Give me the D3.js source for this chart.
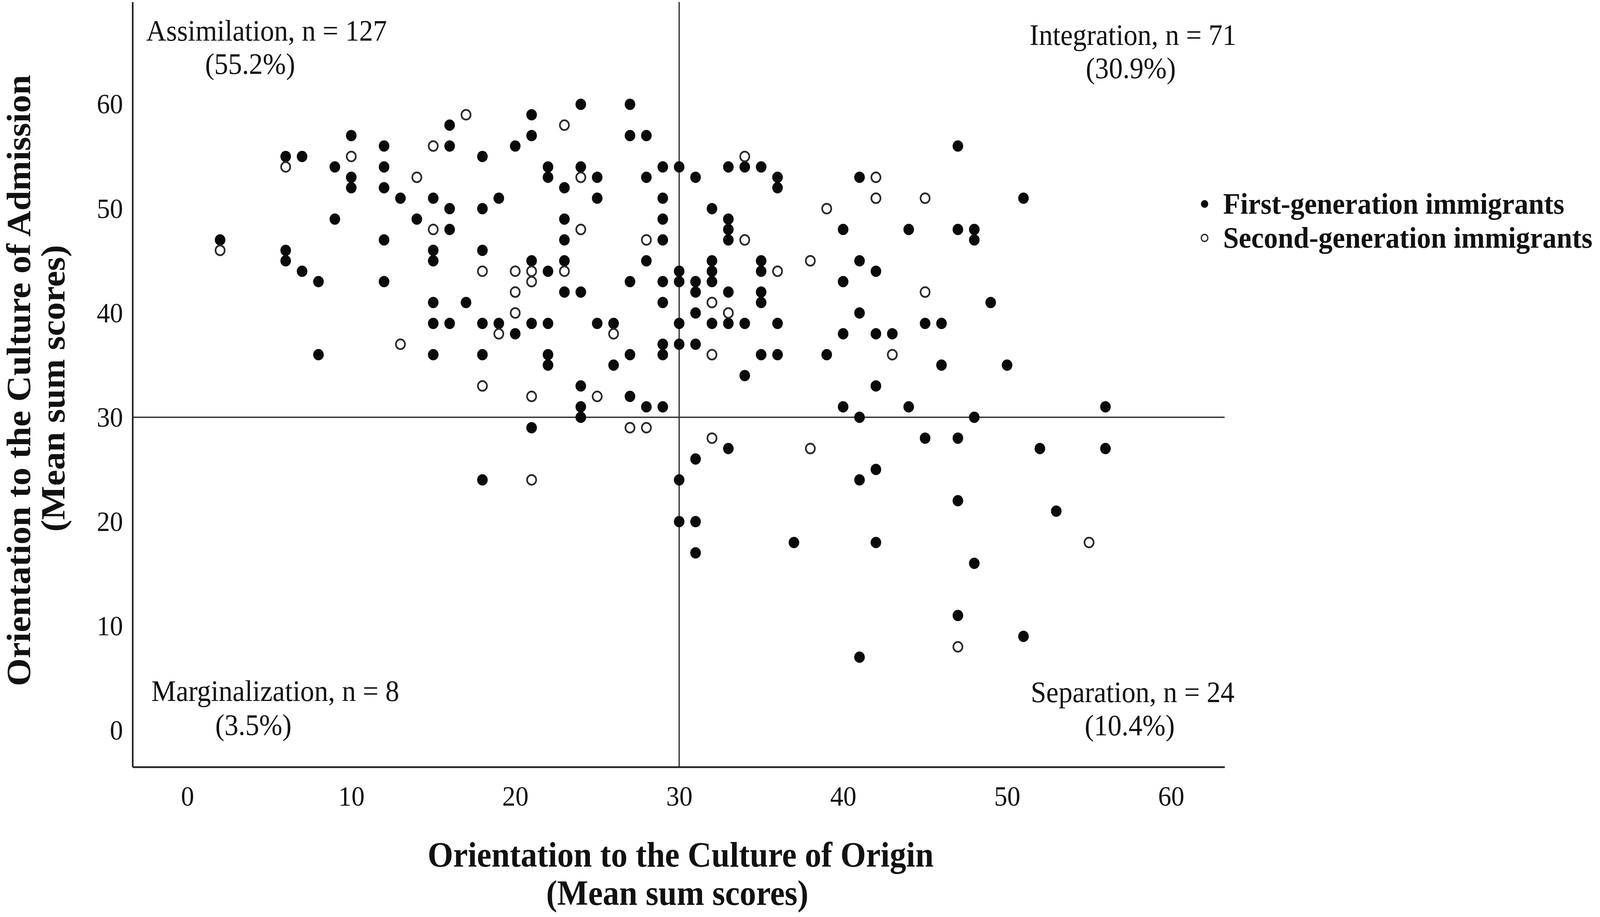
<!DOCTYPE html>
<html>
<head>
<meta charset="utf-8">
<script src="https://cdn.jsdelivr.net/npm/d3@7/dist/d3.min.js"></script>
<style>
  html, body { margin: 0; padding: 0; background: #fff; overflow: hidden; }
  #chart svg { display: block; width: 100vw; height: 100vh; }
</style>
</head>
<body>
<div id="chart"></div>
<script>
// Data (integer mean sum scores)
const firstGen = [
  [2,47],
  [6,55],[6,46],[6,45],
  [7,55],[7,44],
  [8,43],[8,36],
  [9,54],[9,49],
  [10,57],[10,53],[10,52],
  [12,56],[12,54],[12,52],[12,47],[12,43],
  [13,51],
  [14,49],
  [15,51],[15,46],[15,45],[15,41],[15,39],[15,36],
  [16,58],[16,56],[16,50],[16,48],[16,39],
  [17,41],
  [18,55],[18,50],[18,46],[18,39],[18,36],[18,24],
  [19,51],[19,39],
  [20,56],[20,38],
  [21,59],[21,57],[21,45],[21,39],[21,29],
  [22,54],[22,53],[22,44],[22,39],[22,36],[22,35],
  [23,52],[23,49],[23,47],[23,45],[23,42],
  [24,60],[24,54],[24,42],[24,33],[24,31],[24,30],
  [25,53],[25,51],[25,39],
  [26,39],[26,35],
  [27,60],[27,57],[27,43],[27,36],[27,32],
  [28,57],[28,53],[28,45],[28,31],
  [29,54],[29,51],[29,49],[29,47],[29,43],[29,41],[29,37],[29,36],[29,31],
  [30,54],[30,44],[30,43],[30,39],[30,37],[30,24],[30,20],
  [31,53],[31,43],[31,42],[31,40],[31,37],[31,26],[31,20],[31,17],
  [32,50],[32,45],[32,44],[32,43],[32,39],
  [33,54],[33,49],[33,48],[33,47],[33,42],[33,39],[33,27],
  [34,54],[34,39],[34,34],
  [35,54],[35,45],[35,44],[35,42],[35,41],[35,36],
  [36,53],[36,52],[36,39],[36,36],
  [37,18],
  [39,36],
  [40,48],[40,43],[40,38],[40,31],
  [41,53],[41,45],[41,40],[41,30],[41,24],[41,7],
  [42,44],[42,38],[42,33],[42,25],[42,18],
  [43,38],
  [44,48],[44,31],
  [45,39],[45,28],
  [46,39],[46,35],
  [47,56],[47,48],[47,28],[47,22],[47,11],
  [48,48],[48,47],[48,30],[48,16],
  [49,41],[50,35],[51,51],[51,9],[52,27],[53,21],[56,31],[56,27]
];

const secondGen = [
  [2,46],[6,54],[10,55],[13,37],[14,53],[15,56],[15,48],[17,59],
  [18,44],[18,33],[19,38],[20,44],[20,42],[20,40],[21,44],[21,43],
  [21,32],[21,24],[23,58],[23,44],[24,53],[24,48],[25,32],[26,38],
  [27,29],[28,47],[28,29],[32,41],[32,36],[32,28],[33,40],[34,55],
  [34,47],[36,44],[38,45],[38,27],[39,50],[42,53],[42,51],[43,36],
  [45,51],[45,42],[47,8],[55,18]
];

const xTicks = [0, 10, 20, 30, 40, 50, 60];
const yTicks = [0, 10, 20, 30, 40, 50, 60];
const cutX = 30;
const cutY = 30;

const quadNames = ["Assimilation, n = 127", "Integration, n = 71", "Marginalization, n = 8", "Separation, n = 24"];
const quadShares = ["(55.2%)", "(30.9%)", "(3.5%)", "(10.4%)"];
const seriesNames = ["First-generation immigrants", "Second-generation immigrants"];

const xTitle = ["Orientation to the Culture of Origin", "(Mean sum scores)"];
const yTitle = ["Orientation to the Culture of Admission", "(Mean sum scores)"];

// Page and plot frame
const W = 4382, H = 2347;
const frame = {left: 363, right: 3354, top: 5, bottom: 1963};
const serif = '"Liberation Serif", "Times New Roman", serif';

const x = d3.scaleLinear().domain([-3.34, 63.27]).range([frame.left, frame.right]);
const y = d3.scaleLinear().domain([-3.52, 69.81]).range([frame.bottom, frame.top]);

const svg = d3.select("#chart")
    .append("svg")
    .attr("viewBox", `0 0 ${W} ${H}`)
    .attr("preserveAspectRatio", "none");

svg.append("rect")
    .attr("width", W)
    .attr("height", H)
    .attr("fill", "white");

// Reference lines at the cut-off scores
svg.append("line")
    .attr("x1", x(cutX)).attr("x2", x(cutX))
    .attr("y1", frame.top).attr("y2", frame.bottom)
    .attr("stroke", "#333").attr("stroke-width", 3.5);

svg.append("line")
    .attr("x1", frame.left).attr("x2", frame.right)
    .attr("y1", y(cutY)).attr("y2", y(cutY))
    .attr("stroke", "#333").attr("stroke-width", 3.5);

// Axes
const xAxis = d3.axisBottom(x).tickValues(xTicks).tickSize(0).tickSizeOuter(0);
const yAxis = d3.axisLeft(y).tickValues(yTicks).tickSize(0).tickSizeOuter(0).tickPadding(26);

svg.append("g")
    .attr("transform", `translate(0,${frame.bottom})`)
    .call(xAxis)
    .attr("font-family", serif)
    .attr("font-size", 72)
    .call(g => g.select(".domain").attr("stroke", "#222").attr("stroke-width", 4.5))
    .call(g => g.selectAll("text").attr("dy", null).attr("y", 99).attr("fill", "#111"));

svg.append("g")
    .attr("transform", `translate(${frame.left},0)`)
    .call(yAxis)
    .attr("font-family", serif)
    .attr("font-size", 72)
    .call(g => g.select(".domain").attr("stroke", "#222").attr("stroke-width", 4.5))
    .call(g => g.selectAll("text").attr("fill", "#111"));

// Points: first generation filled, second generation open on top
svg.append("g")
    .selectAll("circle")
    .data(firstGen)
    .enter().append("circle")
    .attr("cx", d => x(d[0]))
    .attr("cy", d => y(d[1]))
    .attr("r", 14.5)
    .attr("fill", "#0a0a0a");

svg.append("g")
    .selectAll("circle")
    .data(secondGen)
    .enter().append("circle")
    .attr("cx", d => x(d[0]))
    .attr("cy", d => y(d[1]))
    .attr("r", 12.5)
    .attr("fill", "white")
    .attr("stroke", "#2a2a2a")
    .attr("stroke-width", 4.5);

// Quadrant labels
const quadPos = [
  {x: 730,  y: 104,  x2: 685,  y2: 189},
  {x: 3103, y: 115,  x2: 3097, y2: 200},
  {x: 754,  y: 1794, x2: 694,  y2: 1881},
  {x: 3102, y: 1797, x2: 3094, y2: 1882}
];

const quad = svg.append("g")
    .attr("font-family", serif)
    .attr("font-size", 76)
    .attr("fill", "#111")
    .attr("text-anchor", "middle");

quadNames.forEach(function(name, i) {
    quad.append("text").attr("x", quadPos[i].x).attr("y", quadPos[i].y).text(name);
    quad.append("text").attr("x", quadPos[i].x2).attr("y", quadPos[i].y2).text(quadShares[i]);
});

// Axis titles
const titles = svg.append("g")
    .attr("font-family", serif)
    .attr("font-weight", "bold")
    .attr("fill", "#111")
    .attr("text-anchor", "middle");

titles.append("text").attr("x", 1864).attr("y", 2218).attr("font-size", 90).text(xTitle[0]);
titles.append("text").attr("x", 1855).attr("y", 2316).attr("font-size", 90).text(xTitle[1]);

titles.append("text")
    .attr("transform", "translate(82,974) rotate(-90)")
    .attr("font-size", 92)
    .text(yTitle[0]);
titles.append("text")
    .attr("transform", "translate(176,994) rotate(-90)")
    .attr("font-size", 92)
    .text(yTitle[1]);

// Legend
const legend = svg.append("g")
    .attr("font-family", serif)
    .attr("font-weight", "bold")
    .attr("font-size", 77)
    .attr("fill", "#111");

const legendRows = [{cy: 522, ty: 547}, {cy: 609, ty: 634}];

legend.selectAll("circle")
    .data(seriesNames)
    .enter().append("circle")
    .attr("cx", 3299)
    .attr("cy", (d, i) => legendRows[i].cy)
    .attr("r", (d, i) => i === 0 ? 10 : 9)
    .attr("fill", (d, i) => i === 0 ? "#0a0a0a" : "white")
    .attr("stroke", (d, i) => i === 0 ? "none" : "#2a2a2a")
    .attr("stroke-width", 3.5);

legend.selectAll("text")
    .data(seriesNames)
    .enter().append("text")
    .attr("x", 3350)
    .attr("y", (d, i) => legendRows[i].ty)
    .text(d => d);
</script>
</body>
</html>
